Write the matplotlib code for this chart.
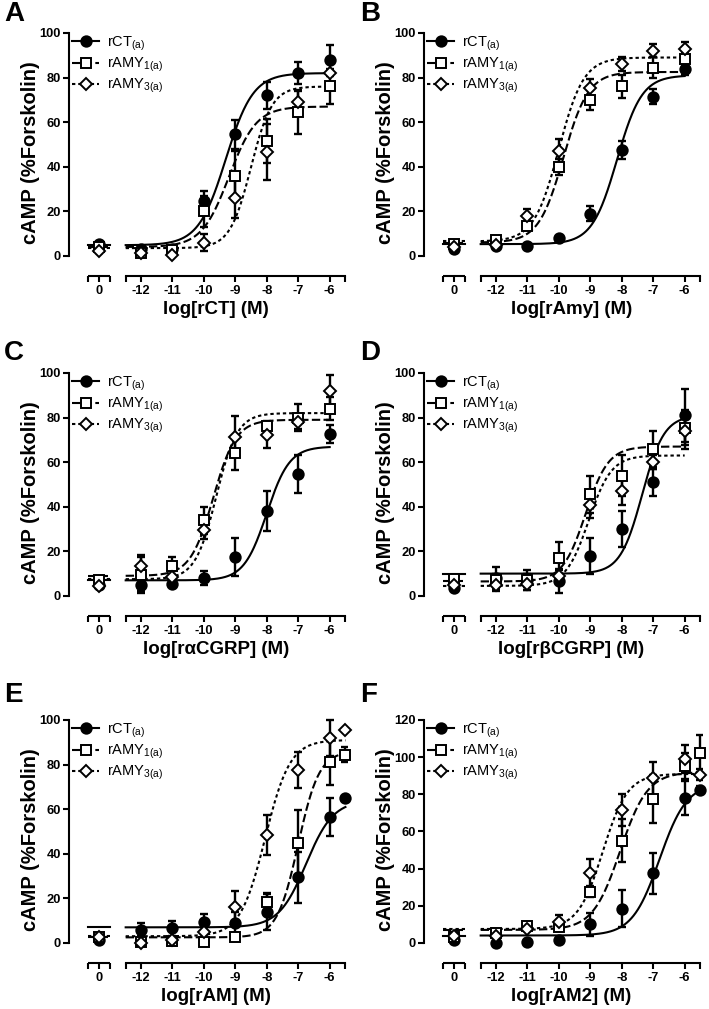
import numpy as np
import matplotlib
matplotlib.use("Agg")
import matplotlib.pyplot as plt
from matplotlib.lines import Line2D

plt.rcParams['font.family'] = ['Liberation Sans', 'DejaVu Sans']
plt.rcParams['mathtext.fontset'] = 'custom'
plt.rcParams['mathtext.rm'] = 'Liberation Sans'
plt.rcParams['mathtext.it'] = 'Liberation Sans:italic'
plt.rcParams['mathtext.bf'] = 'Liberation Sans:bold'

# log[agonist] (M); first point of every series is the vehicle ("0")
doses = [-12, -11, -10, -9, -8, -7, -6]
doses_long = [-12, -11, -10, -9, -8, -7, -6, -5.5]
tick_doses = [-12, -11, -10, -9, -8, -7, -6]
tick_labels = ['0', '-12', '-11', '-10', '-9', '-8', '-7', '-6']
series_labels = [r'rCT$_{\rm (a)}$', r'rAMY$_{\rm 1(a)}$', r'rAMY$_{\rm 3(a)}$']

# A - rCT
a_ct = [5.5, 3, 3, 24.5, 54.5, 72, 82, 88]
a_ct_err = [0.8, 1, 1, 4.5, 6.5, 6, 5, 6.5]
a_amy1 = [4, 1.5, 2.5, 20, 36, 51.5, 64.5, 76]
a_amy1_err = [1, 1, 1, 7, 11, 10, 10, 8]
a_amy3 = [2, 1.5, 0.5, 6, 26, 46.5, 69, 82]
a_amy3_err = [0.5, 0.5, 0.5, 4, 9, 12.5, 5, 1.5]
# fits: bottom, top, logEC50, hill
a_fits = [(4.8, 82, -9.3, 1.0), (4, 67, -9.2, 1.0), (3.5, 76, -8.5, 1.3)]

# B - rAmy
b_ct = [3, 4.5, 4.5, 8, 19, 47.5, 71.5, 84]
b_ct_err = [0.5, 0.5, 0.5, 0.8, 3.5, 4, 3.5, 3]
b_amy1 = [5.5, 7, 13.5, 40, 70, 76, 84.5, 88.5]
b_amy1_err = [0.5, 0.5, 2, 3.5, 4.5, 5, 4.5, 3]
b_amy3 = [4, 5, 18, 47, 75.5, 86, 92, 93]
b_amy3_err = [0.5, 0.5, 3, 5.5, 4, 3, 3, 3]
b_fits = [(5.3, 81, -8.15, 1.1), (6, 82.5, -9.85, 1.1), (6.5, 89, -10.0, 1.1)]

# C - r alpha CGRP
c_ct = [5, 5, 5.5, 8, 17.5, 38, 54.5, 72.5]
c_ct_err = [0.5, 3, 1, 3, 8.5, 9, 8.5, 4]
c_amy1 = [7, 9.5, 13.5, 34, 64, 76, 80, 84]
c_amy1_err = [1, 8, 4, 6, 7.5, 2.5, 6, 5]
c_amy3 = [4.5, 13.5, 8.5, 29.5, 71.5, 72, 78, 92]
c_amy3_err = [0.5, 5, 2.5, 4, 9, 5.5, 3, 7]
c_fits = [(7, 67, -8.0, 1.2), (9, 79, -9.7, 1.2), (7.5, 82, -9.6, 1.3)]

# D - r beta CGRP
d_ct = [3.5, 8, 7, 6.5, 18, 30, 51, 81]
d_ct_err = [1, 5, 4.5, 5, 8, 8, 6, 12]
d_amy1 = [7.5, 7, 7, 17, 45.5, 54, 66, 75.5]
d_amy1_err = [1, 3, 3, 7, 8.5, 9, 8, 8]
d_amy3 = [5, 5, 5.5, 9, 41, 47, 60, 74]
d_amy3_err = [1, 3, 3, 3, 6, 6, 3, 8]
d_fits = [(10, 81, -7.35, 1.25), (6.5, 67, -9.15, 1.2), (4.5, 63, -9.05, 1.2)]

# E - rAM
e_ct = [1.5, 6, 6.5, 9.5, 9, 14, 29.5, 56.5, 65]
e_ct_err = [0.5, 3, 3.5, 3.5, 5, 8, 11.5, 8.5, 0.5]
e_amy1 = [2.5, 0.5, 1, 0.5, 2.5, 18.5, 45, 81, 84.5]
e_amy1_err = [0.5, 0.5, 0.5, 0.5, 1.5, 4, 14.5, 10, 3.5]
e_amy3 = [2.5, 0, 1.5, 5, 16, 48.5, 77.5, 92, 95.5]
e_amy3_err = [0.5, 0.5, 0.5, 1, 7.5, 9, 8, 8, 0.5]
e_fits = [(7, 64, -6.75, 1.0), (2.5, 86, -7.0, 1.3), (3, 91, -8.05, 1.1)]

# F - rAM2
f_ct = [1.5, 0, 0.5, 1.5, 10, 18.5, 37.5, 78, 82.5]
f_ct_err = [0.5, 0.5, 0.5, 0.5, 6, 10, 11, 9, 2]
f_amy1 = [3, 5.5, 9, 8.5, 27.5, 55, 77.5, 95, 102]
f_amy1_err = [0.5, 1, 2, 2, 3, 11.5, 13, 7, 10]
f_amy3 = [4, 4, 7.5, 11.5, 37.5, 71.5, 88.5, 99, 90.5]
f_amy3_err = [0.5, 1, 1, 3.5, 7.5, 8.5, 9, 7.5, 3]
f_fits = [(4, 86, -6.8, 1.0), (7, 92, -8.05, 1.0), (7.5, 91, -8.6, 1.1)]

panels = [
    ('A', 'log[rCT] (M)', doses, [a_ct, a_amy1, a_amy3], [a_ct_err, a_amy1_err, a_amy3_err], a_fits, 100),
    ('B', 'log[rAmy] (M)', doses, [b_ct, b_amy1, b_amy3], [b_ct_err, b_amy1_err, b_amy3_err], b_fits, 100),
    ('C', 'log[r\u03b1CGRP] (M)', doses, [c_ct, c_amy1, c_amy3], [c_ct_err, c_amy1_err, c_amy3_err], c_fits, 100),
    ('D', 'log[r\u03b2CGRP] (M)', doses, [d_ct, d_amy1, d_amy3], [d_ct_err, d_amy1_err, d_amy3_err], d_fits, 100),
    ('E', 'log[rAM] (M)', doses_long, [e_ct, e_amy1, e_amy3], [e_ct_err, e_amy1_err, e_amy3_err], e_fits, 100),
    ('F', 'log[rAM2] (M)', doses_long, [f_ct, f_amy1, f_amy3], [f_ct_err, f_amy1_err, f_amy3_err], f_fits, 120),
]

# broken x axis: vehicle sits on its own little segment
VEH = -13.33
LEFT_SEG = (-13.69, -12.97)
RIGHT_SEG = (-12.48, -5.52)
XLIM = (-14.28, -5.45)

styles = [
    dict(marker='o', mfc='black', ms=7.5, ls='-'),
    dict(marker='s', mfc='white', ms=6.5, ls=(0, (4, 1.6))),
    dict(marker='D', mfc='white', ms=6.5, ls=(0, (1.6, 1.4))),
]


def logistic(x, bottom, top, ec50, hill):
    return bottom + (top - bottom) / (1 + 10 ** ((ec50 - x) * hill))


W, H = 709, 1009
fig = plt.figure(figsize=(W / 100, H / 100), dpi=100)

col_left = [69, 424]
row_bottom = [276, 616, 963]
ax_w, ax_h = 278, 247.5
letter_y = [14, 353, 695]
letter_x = [4, 360]

for i, (letter, xlabel, xs, means, errs, fits, ymax) in enumerate(panels):
    r, c = divmod(i, 2)
    ax = fig.add_axes([col_left[c] / W, 1 - row_bottom[r] / H, ax_w / W, ax_h / H])
    k = ymax / 100
    ylo = -9 * k
    ax.set_xlim(*XLIM)
    ax.set_ylim(ylo, 102 * k)

    xpos = [VEH] + list(xs)
    x_end = xs[-1]
    for j in range(3):
        st = styles[j]
        bottom, top, ec50, hill = fits[j]
        ax.errorbar(xpos, means[j], yerr=errs[j], fmt='none', ecolor='black',
                    elinewidth=1.7, capsize=2.8, capthick=1.7, zorder=2)
        xc = np.linspace(RIGHT_SEG[0], max(x_end, -6.0), 300)
        ax.plot(xc, logistic(xc, *fits[j]), color='black', lw=1.5, ls=st['ls'], zorder=3)
        ax.plot(LEFT_SEG, [bottom, bottom], color='black', lw=1.5, ls=st['ls'], zorder=3)
        ax.plot(xpos, means[j], ls='none', marker=st['marker'], ms=st['ms'],
                mfc=st['mfc'], mec='black', mew=1.4, zorder=4, clip_on=False)

    # axes styling
    for s in ['top', 'right']:
        ax.spines[s].set_visible(False)
    ax.spines['left'].set_bounds(0, ymax)
    ax.spines['bottom'].set_bounds(*RIGHT_SEG)
    ax.spines['left'].set_linewidth(1.5)
    ax.spines['bottom'].set_linewidth(1.5)
    ax.plot(LEFT_SEG, [ylo, ylo], color='black', lw=1.5, clip_on=False, solid_capstyle='butt')

    ax.set_yticks(np.arange(0, ymax + 1, 20))
    ax.set_xticks([VEH] + tick_doses)
    ax.set_xticklabels(tick_labels)
    ax.set_xticks(list(LEFT_SEG) + list(RIGHT_SEG), minor=True)
    ax.tick_params(axis='both', which='both', direction='out', width=1.5, labelsize=9.3)
    ax.tick_params(axis='y', length=4, pad=2)
    ax.tick_params(axis='x', which='both', length=4.5, pad=2)
    for lab in ax.get_xticklabels() + ax.get_yticklabels():
        lab.set_fontweight('bold')

    ax.set_ylabel('cAMP (%Forskolin)', fontsize=14.5, fontweight='bold')
    ax.yaxis.set_label_coords(-0.105, 0.5)
    ax.set_xlabel(xlabel, fontsize=13.5, fontweight='bold')
    ax.xaxis.set_label_coords(0.53, -0.10)

    handles = [Line2D([], [], color='black', lw=1.5, ls=styles[j]['ls'], marker=styles[j]['marker'],
                      ms=styles[j]['ms'], mfc=styles[j]['mfc'], mec='black', mew=1.4) for j in range(3)]
    ax.legend(handles, series_labels, loc='upper left', bbox_to_anchor=(0.01, 0.975), frameon=False,
              prop={'weight': 'normal', 'size': 10.5}, handlelength=1.9, handletextpad=0.5,
              labelspacing=0.2, borderaxespad=0, borderpad=0)

    fig.text(letter_x[c] / W, 1 - letter_y[r] / H, letter, fontsize=20, fontweight='bold',
             ha='left', va='center')

fig.savefig('out.png', dpi=100)
